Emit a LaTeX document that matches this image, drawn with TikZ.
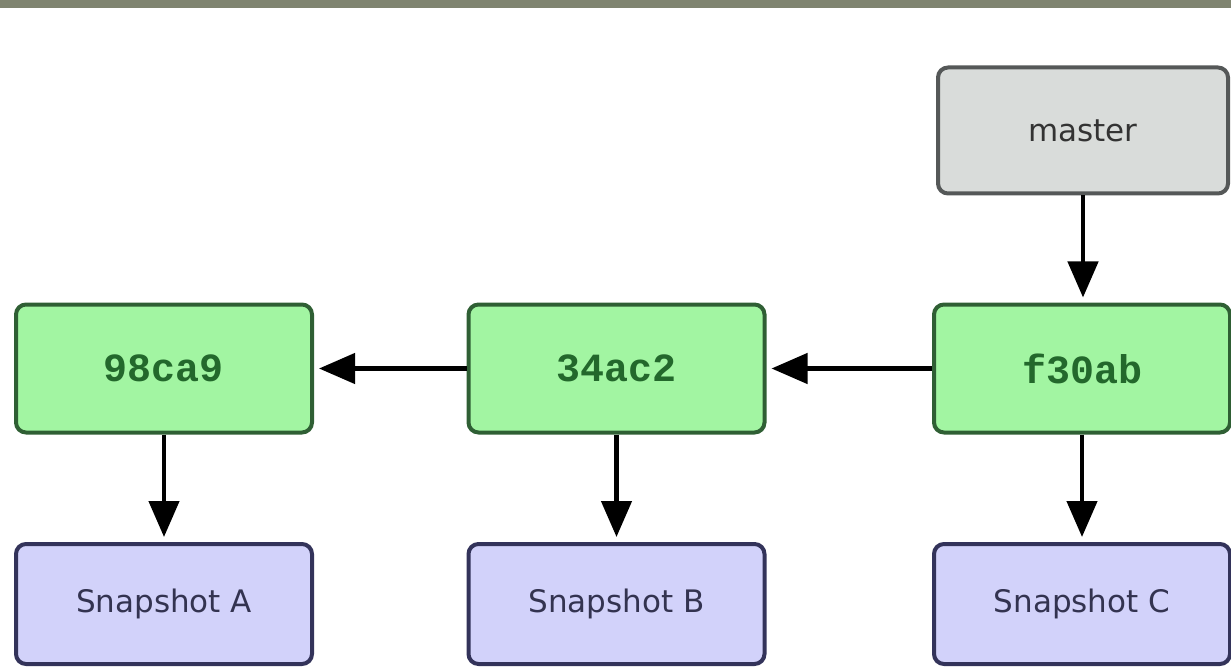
\documentclass[tikz,border=0pt]{standalone}
\usepackage{fontspec}
\setmainfont{DejaVu Sans}
\newfontfamily\hashfont{Liberation Mono}
\usetikzlibrary{arrows.meta}
\definecolor{barcol}{HTML}{7F8470}
\definecolor{commitfill}{HTML}{A2F5A2}
\definecolor{commitline}{HTML}{2F5F34}
\definecolor{committext}{HTML}{23682C}
\definecolor{branchfill}{HTML}{D9DCDA}
\definecolor{branchline}{HTML}{555858}
\definecolor{branchtext}{HTML}{333333}
\definecolor{snapfill}{HTML}{D2D2FA}
\definecolor{snapline}{HTML}{33335A}
\definecolor{snaptext}{HTML}{333350}
\tikzset{
  box/.style={rectangle, rounded corners=10pt, line width=4pt, inner sep=0pt},
  commitbox/.style={box, draw=commitline, fill=commitfill, text=committext,
    minimum width=296pt, minimum height=128pt,
    font=\hashfont\bfseries\fontsize{40}{40}\selectfont},
  branchbox/.style={box, draw=branchline, fill=branchfill, text=branchtext,
    minimum width=290pt, minimum height=126pt,
    font=\fontsize{31}{31}\selectfont},
  snapbox/.style={box, draw=snapline, fill=snapfill, text=snaptext,
    minimum width=296pt, minimum height=120pt,
    font=\fontsize{31}{31}\selectfont},
  link/.style={line width=4.5pt, black,
    -{Triangle[length=36pt,width=30pt]}, shorten >=5pt}
}
\begin{document}
\begin{tikzpicture}[x=1pt,y=-1pt]
  \useasboundingbox (0,0) rectangle (1231,668);
  % top strip
  \fill[barcol] (0,0) rectangle (1231,8);

  % branch pointer
  \node[branchbox] (master) at (1083,130.5) {master};

  % commits
  \node[commitbox] (c1) at (164,368.5) {98ca9};
  \node[commitbox] (c2) at (616.5,368.5) {34ac2};
  \node[commitbox] (c3) at (1082,368.5) {f30ab};

  % snapshots
  \node[snapbox] (sA) at (164,604) {Snapshot A};
  \node[snapbox] (sB) at (616.5,604) {Snapshot B};
  \node[snapbox] (sC) at (1082,604) {Snapshot C};

  % parent links
  \draw[link] (c2.west) -- (c1.east);
  \draw[link] (c3.west) -- (c2.east);

  % branch points at latest commit
  \draw[link] (master.south) -- (master.south |- c3.north);

  % commits point at snapshots
  \draw[link] (c1.south) -- (sA.north);
  \draw[link] (c2.south) -- (sB.north);
  \draw[link] (c3.south) -- (sC.north);
\end{tikzpicture}
\end{document}
